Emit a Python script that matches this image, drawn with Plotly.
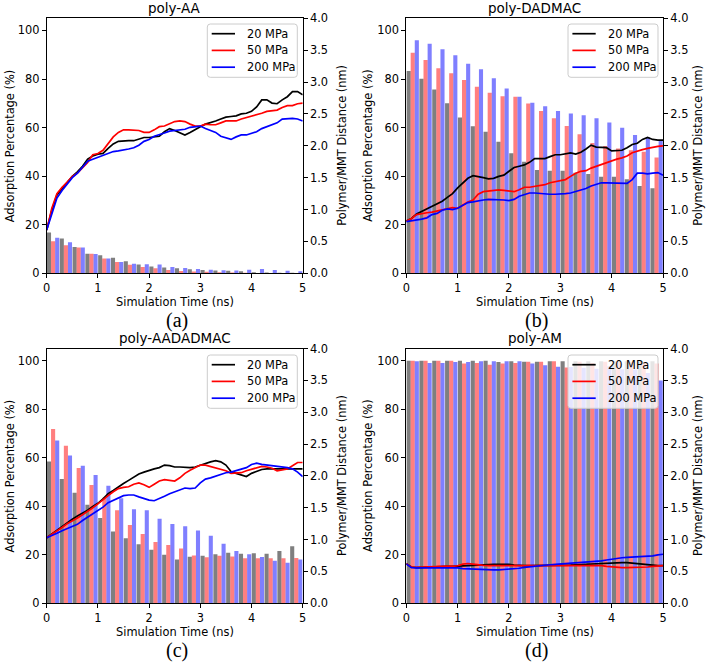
import plotly.graph_objects as go

W, H = 707, 664

# ---------------- data ----------------
bar_t = [0.0, 0.25, 0.5, 0.75, 1.0, 1.25, 1.5, 1.75, 2.0, 2.25,
         2.5, 2.75, 3.0, 3.25, 3.5, 3.75, 4.0, 4.25, 4.5, 4.75]

line_t = [0.0, 0.1, 0.2, 0.3, 0.4, 0.5, 0.6, 0.7, 0.8, 0.9,
          1.0, 1.1, 1.2, 1.3, 1.4, 1.5, 1.6, 1.7, 1.8, 1.9,
          2.0, 2.1, 2.2, 2.3, 2.4, 2.5, 2.6, 2.7, 2.8, 2.9,
          3.0, 3.1, 3.2, 3.3, 3.4, 3.5, 3.6, 3.7, 3.8, 3.9,
          4.0, 4.1, 4.2, 4.3, 4.4, 4.5, 4.6, 4.7, 4.8, 4.9, 5.0]

pressures = ["20 MPa", "50 MPa", "200 MPa"]
titles = ["poly-AA", "poly-DADMAC", "poly-AADADMAC", "poly-AM"]
letters = ["(a)", "(b)", "(c)", "(d)"]
x_ticks = [0, 1, 2, 3, 4, 5]
left_ticks = [0, 20, 40, 60, 80, 100]
right_ticks = [0.0, 0.5, 1.0, 1.5, 2.0, 2.5, 3.0, 3.5, 4.0]

# adsorption percentage (%) - bars
ads_a_20 = [16.8, 14.3, 10.8, 8.1, 7.4, 6.4, 5.0, 3.6, 2.8, 2.4, 2.1, 1.7, 1.4, 1.2, 1.0, 0.8, 0.4, 0.3, 0.2, 0.2]
ads_a_50 = [13.2, 11.5, 10.6, 8.1, 6.1, 4.7, 3.5, 2.6, 2.1, 1.4, 0.9, 0.7, 0.6, 0.4, 0.3, 0.2, 0.1, 0.1, 0.05, 0.05]
ads_a_200 = [14.6, 12.8, 10.6, 7.9, 6.1, 4.7, 3.9, 3.7, 3.6, 2.6, 2.2, 1.8, 1.5, 1.3, 1.2, 1.5, 1.8, 1.4, 1.1, 0.8]

ads_b_20 = [83.3, 80.1, 75.7, 70.0, 64.2, 60.6, 58.3, 54.2, 49.4, 45.9, 42.5, 42.2, 42.2, 41.4, 40.9, 39.8, 39.8, 38.7, 35.9, 35.0]
ads_b_50 = [90.8, 87.8, 84.4, 82.4, 79.6, 76.8, 74.3, 72.9, 72.7, 69.9, 66.8, 63.8, 60.7, 57.3, 53.7, 52.4, 51.4, 50.7, 50.0, 47.7]
ads_b_200 = [96.0, 94.5, 92.3, 89.8, 86.3, 84.0, 80.3, 76.1, 72.7, 70.2, 68.8, 66.8, 65.8, 65.1, 63.8, 62.1, 59.9, 56.9, 56.0, 54.9]

ads_c_20 = [58.4, 51.2, 45.6, 40.6, 35.1, 29.6, 26.8, 24.3, 22.1, 20.0, 18.1, 19.2, 19.6, 20.2, 20.8, 20.4, 20.6, 20.4, 21.6, 23.5]
ads_c_50 = [71.8, 64.9, 55.8, 48.8, 43.5, 38.3, 32.3, 28.6, 25.3, 24.0, 22.6, 19.7, 19.0, 19.6, 19.3, 18.6, 18.6, 18.6, 18.6, 18.7]
ads_c_200 = [67.1, 60.9, 56.7, 52.9, 48.4, 43.3, 38.8, 38.3, 34.8, 32.7, 31.7, 30.0, 27.8, 24.5, 21.6, 20.2, 19.1, 17.5, 16.7, 18.1]

ads_d_20 = [100.0, 100.0, 100.0, 100.0, 100.0, 100.0, 100.0, 99.4, 99.7, 99.5, 99.5, 99.7, 99.7, 99.7, 99.7, 99.7, 99.7, 99.7, 99.7, 99.7]
ads_d_50 = [100.0, 100.0, 100.0, 100.0, 98.8, 99.0, 98.3, 98.8, 99.0, 99.5, 99.5, 99.7, 97.2, 99.5, 99.0, 99.5, 99.5, 99.5, 99.0, 98.8]
ads_d_200 = [99.7, 99.0, 99.0, 99.4, 99.4, 99.7, 99.7, 99.7, 99.7, 98.8, 98.1, 97.5, 97.4, 97.1, 96.7, 97.7, 96.5, 96.3, 94.9, 91.8]

# polymer/MMT distance (nm) - lines
dist_a_20 = [0.68, 0.99, 1.23, 1.33, 1.42, 1.52, 1.59, 1.68, 1.79, 1.84,
             1.87, 1.88, 1.96, 2.03, 2.07, 2.08, 2.08, 2.08, 2.10, 2.13,
             2.13, 2.14, 2.15, 2.22, 2.27, 2.24, 2.21, 2.17, 2.21, 2.26,
             2.30, 2.34, 2.36, 2.39, 2.42, 2.45, 2.46, 2.47, 2.50, 2.51,
             2.54, 2.61, 2.72, 2.72, 2.67, 2.66, 2.72, 2.77, 2.85, 2.85, 2.80]
dist_a_50 = [0.68, 1.02, 1.25, 1.35, 1.43, 1.52, 1.57, 1.65, 1.74, 1.86,
             1.88, 1.93, 2.04, 2.14, 2.21, 2.25, 2.25, 2.24, 2.24, 2.21,
             2.21, 2.25, 2.30, 2.31, 2.34, 2.38, 2.39, 2.38, 2.34, 2.31,
             2.31, 2.34, 2.33, 2.33, 2.36, 2.39, 2.39, 2.39, 2.42, 2.44,
             2.47, 2.48, 2.51, 2.54, 2.55, 2.56, 2.60, 2.63, 2.63, 2.66, 2.67]
dist_a_200 = [0.68, 0.95, 1.18, 1.30, 1.40, 1.50, 1.57, 1.66, 1.76, 1.79,
              1.82, 1.85, 1.88, 1.91, 1.92, 1.93, 1.95, 1.97, 2.01, 2.07,
              2.10, 2.15, 2.17, 2.20, 2.23, 2.24, 2.25, 2.26, 2.29, 2.30,
              2.31, 2.27, 2.24, 2.21, 2.15, 2.12, 2.10, 2.14, 2.17, 2.17,
              2.19, 2.22, 2.27, 2.30, 2.33, 2.36, 2.42, 2.43, 2.43, 2.42, 2.39]

dist_b_20 = [0.82, 0.86, 0.93, 0.97, 1.02, 1.06, 1.10, 1.13, 1.19, 1.25,
             1.34, 1.42, 1.49, 1.53, 1.52, 1.50, 1.48, 1.49, 1.52, 1.54,
             1.60, 1.66, 1.68, 1.70, 1.74, 1.80, 1.80, 1.80, 1.83, 1.86,
             1.86, 1.88, 1.89, 1.87, 1.90, 1.95, 2.01, 1.98, 1.98, 1.97,
             1.92, 1.92, 1.93, 1.97, 2.02, 2.04, 2.10, 2.13, 2.10, 2.09, 2.09]
dist_b_50 = [0.82, 0.86, 0.92, 0.94, 0.95, 0.96, 0.98, 1.00, 1.02, 1.03,
             1.02, 1.07, 1.12, 1.15, 1.24, 1.28, 1.29, 1.31, 1.31, 1.30,
             1.29, 1.28, 1.31, 1.35, 1.35, 1.36, 1.37, 1.39, 1.42, 1.44,
             1.45, 1.47, 1.52, 1.57, 1.60, 1.61, 1.65, 1.68, 1.71, 1.73,
             1.76, 1.79, 1.81, 1.84, 1.89, 1.92, 1.94, 1.96, 1.98, 1.99, 2.00]
dist_b_200 = [0.81, 0.82, 0.84, 0.85, 0.87, 0.92, 0.94, 0.99, 1.01, 1.00,
              1.02, 1.06, 1.11, 1.12, 1.14, 1.15, 1.16, 1.16, 1.15, 1.15,
              1.14, 1.16, 1.21, 1.24, 1.26, 1.26, 1.25, 1.25, 1.24, 1.24,
              1.24, 1.25, 1.26, 1.28, 1.31, 1.33, 1.37, 1.39, 1.42, 1.42,
              1.42, 1.42, 1.42, 1.41, 1.47, 1.57, 1.57, 1.56, 1.57, 1.58, 1.54]

dist_c_20 = [1.03, 1.09, 1.15, 1.21, 1.27, 1.32, 1.37, 1.41, 1.46, 1.52,
             1.57, 1.64, 1.72, 1.77, 1.83, 1.88, 1.93, 1.98, 2.03, 2.06,
             2.09, 2.11, 2.13, 2.17, 2.16, 2.14, 2.14, 2.13, 2.13, 2.14,
             2.17, 2.20, 2.22, 2.24, 2.22, 2.17, 2.07, 2.04, 2.02, 1.99,
             2.04, 2.07, 2.10, 2.11, 2.11, 2.11, 2.10, 2.10, 2.10, 2.11, 2.11]
dist_c_50 = [1.03, 1.08, 1.13, 1.19, 1.25, 1.29, 1.34, 1.39, 1.44, 1.50,
             1.56, 1.63, 1.69, 1.75, 1.80, 1.82, 1.83, 1.87, 1.89, 1.86,
             1.82, 1.87, 1.92, 1.94, 1.93, 1.92, 1.97, 2.04, 2.09, 2.13,
             2.17, 2.17, 2.15, 2.13, 2.11, 2.08, 2.04, 2.04, 2.05, 2.08,
             2.10, 2.13, 2.15, 2.14, 2.12, 2.08, 2.09, 2.11, 2.16, 2.21, 2.21]
dist_c_200 = [1.03, 1.06, 1.10, 1.14, 1.17, 1.20, 1.24, 1.30, 1.35, 1.41,
              1.46, 1.51, 1.58, 1.62, 1.66, 1.69, 1.70, 1.70, 1.67, 1.64,
              1.62, 1.61, 1.64, 1.68, 1.72, 1.75, 1.78, 1.81, 1.80, 1.81,
              1.89, 1.95, 1.97, 2.00, 2.02, 2.05, 2.06, 2.08, 2.10, 2.13,
              2.18, 2.20, 2.18, 2.17, 2.16, 2.16, 2.15, 2.13, 2.11, 2.06, 1.99]

dist_d_20 = [0.62, 0.57, 0.56, 0.565, 0.57, 0.575, 0.58, 0.58, 0.58, 0.58,
             0.585, 0.59, 0.59, 0.595, 0.60, 0.605, 0.61, 0.61, 0.61, 0.615,
             0.61, 0.60, 0.59, 0.59, 0.59, 0.59, 0.59, 0.59, 0.595, 0.60,
             0.60, 0.60, 0.60, 0.605, 0.61, 0.61, 0.615, 0.62, 0.62, 0.625,
             0.63, 0.635, 0.64, 0.64, 0.63, 0.62, 0.61, 0.60, 0.595, 0.59, 0.59]
dist_d_50 = [0.62, 0.57, 0.565, 0.57, 0.575, 0.58, 0.585, 0.59, 0.585, 0.58,
             0.59, 0.615, 0.625, 0.615, 0.60, 0.595, 0.59, 0.59, 0.59, 0.59,
             0.59, 0.59, 0.59, 0.59, 0.595, 0.595, 0.60, 0.60, 0.60, 0.60,
             0.60, 0.60, 0.60, 0.60, 0.60, 0.60, 0.60, 0.595, 0.59, 0.58,
             0.57, 0.565, 0.56, 0.56, 0.56, 0.56, 0.565, 0.57, 0.58, 0.59, 0.59]
dist_d_200 = [0.62, 0.56, 0.555, 0.555, 0.56, 0.562, 0.565, 0.565, 0.565, 0.56,
              0.555, 0.545, 0.54, 0.535, 0.53, 0.53, 0.525, 0.525, 0.525, 0.53,
              0.53, 0.54, 0.55, 0.565, 0.575, 0.585, 0.59, 0.60, 0.605, 0.61,
              0.615, 0.62, 0.625, 0.63, 0.635, 0.64, 0.645, 0.655, 0.665, 0.68,
              0.695, 0.705, 0.715, 0.72, 0.725, 0.73, 0.73, 0.735, 0.745, 0.76, 0.77]

panels_ads = [
    [ads_a_20, ads_a_50, ads_a_200],
    [ads_b_20, ads_b_50, ads_b_200],
    [ads_c_20, ads_c_50, ads_c_200],
    [ads_d_20, ads_d_50, ads_d_200],
]
panels_dist = [
    [dist_a_20, dist_a_50, dist_a_200],
    [dist_b_20, dist_b_50, dist_b_200],
    [dist_c_20, dist_c_50, dist_c_200],
    [dist_d_20, dist_d_50, dist_d_200],
]

# ---------------- styling / layout ----------------
BAR_OFFSETS = [0.045, 0.125, 0.205]
BAR_WIDTH = 0.08
bar_colors = ["rgba(0,0,0,0.5)", "rgba(255,0,0,0.5)", "rgba(0,0,255,0.5)"]
line_colors = ["#000000", "#ff0000", "#0000ff"]
FONT = "DejaVu Sans"
FS = 11.4


def px(x):
    return x / W


def py(y):
    return 1 - y / H


# pixel boxes of each axes: (left, right, top, bottom)
boxes = [
    (46.7, 302.7, 18.3, 273.3),
    (406.3, 663.0, 18.3, 273.3),
    (46.7, 302.7, 348.5, 603.3),
    (406.3, 663.0, 348.5, 603.3),
]
# legend box top-right corners (pixels) and size
legend_corners = [(297.3, 24.0), (658.0, 24.0), (297.3, 355.0), (658.0, 355.0)]
LEG_W, LEG_H, LEG_R = 90.0, 53.3, 3.0
LEG_ROWS = [9.7, 26.4, 43.2]
# y-label x centres (left, right)
ylabel_x = [(9.5, 342.0), (368.0, 698.0), (9.5, 342.0), (368.0, 698.0)]

fig = go.Figure()
layout = dict(
    width=W, height=H,
    margin=dict(l=0, r=0, t=0, b=0, autoexpand=False),
    paper_bgcolor="white", plot_bgcolor="white",
    barmode="overlay",
    font=dict(family=FONT, size=FS, color="black"),
    showlegend=False,
)
annotations = []
shapes = []


def rounded_box(x0, y0, x1, y1, r):
    # pixel coords -> paper path with rounded corners
    def P(x, y):
        return f"{px(x):.6f},{py(y):.6f}"
    return (f"M {P(x0 + r, y0)} L {P(x1 - r, y0)} Q {P(x1, y0)} {P(x1, y0 + r)} "
            f"L {P(x1, y1 - r)} Q {P(x1, y1)} {P(x1 - r, y1)} "
            f"L {P(x0 + r, y1)} Q {P(x0, y1)} {P(x0, y1 - r)} "
            f"L {P(x0, y0 + r)} Q {P(x0, y0)} {P(x0 + r, y0)} Z")


for i in range(4):
    l, r, t, b = boxes[i]
    xa = "x" if i == 0 else f"x{i+1}"
    yl_i, yr_i = 2 * i + 1, 2 * i + 2
    yl = "y" if yl_i == 1 else f"y{yl_i}"
    yr = f"y{yr_i}"

    for k in range(3):
        fig.add_trace(go.Bar(
            x=[tt + BAR_OFFSETS[k] for tt in bar_t], y=panels_ads[i][k],
            width=BAR_WIDTH, marker=dict(color=bar_colors[k], line=dict(width=0)),
            xaxis=xa, yaxis=yl, showlegend=False, hoverinfo="skip"))
    for k in range(3):
        fig.add_trace(go.Scatter(
            x=line_t, y=panels_dist[i][k], mode="lines",
            line=dict(color=line_colors[k], width=1.7),
            name=pressures[k], xaxis=xa, yaxis=yr, showlegend=False))

    common = dict(showgrid=False, zeroline=False, showline=True, linecolor="black",
                  linewidth=1, ticks="outside", ticklen=4, tickwidth=1, automargin=False,
                  tickcolor="black", tickfont=dict(family=FONT, size=FS, color="black"))
    layout["xaxis" if i == 0 else f"xaxis{i+1}"] = dict(
        domain=[px(l), px(r)], anchor=yl, range=[0, 5], tickvals=x_ticks,
        mirror=True, **common)
    layout["yaxis" if yl_i == 1 else f"yaxis{yl_i}"] = dict(
        domain=[py(b), py(t)], anchor=xa, range=[0, 105], tickvals=left_ticks,
        **common)
    layout[f"yaxis{yr_i}"] = dict(
        overlaying=yl, side="right", anchor=xa, range=[0, 4],
        tickvals=right_ticks, tickformat=".1f", **common)

    # legend (matplotlib style)
    lr, lt = legend_corners[i]
    ll = lr - LEG_W
    shapes.append(dict(type="path", xref="paper", yref="paper",
                       path=rounded_box(ll, lt, lr, lt + LEG_H, LEG_R),
                       fillcolor="rgba(255,255,255,0.8)",
                       line=dict(color="#cccccc", width=1), layer="above"))
    for k in range(3):
        ry = lt + LEG_ROWS[k]
        shapes.append(dict(type="line", xref="paper", yref="paper",
                           x0=px(ll + 4.4), x1=px(ll + 27.7), y0=py(ry), y1=py(ry),
                           line=dict(color=line_colors[k], width=1.7), layer="above"))
        annotations.append(dict(text=pressures[k], x=px(ll + 37.5), y=py(ry),
                                xref="paper", yref="paper", showarrow=False,
                                xanchor="left", yanchor="middle",
                                font=dict(family=FONT, size=FS, color="black")))

    cx = (l + r) / 2
    cy = (t + b) / 2
    annotations.append(dict(text=titles[i], x=px(cx), y=py(t - 10.5), xref="paper", yref="paper",
                            showarrow=False, xanchor="center", yanchor="middle",
                            font=dict(family=FONT, size=13.5, color="black")))
    annotations.append(dict(text="Simulation Time (ns)", x=px(cx), y=py(b + 28.5),
                            xref="paper", yref="paper", showarrow=False,
                            xanchor="center", yanchor="middle",
                            font=dict(family=FONT, size=FS, color="black")))
    annotations.append(dict(text=letters[i], x=px(cx + 2), y=py(b + 47.5),
                            xref="paper", yref="paper", showarrow=False,
                            xanchor="center", yanchor="middle",
                            font=dict(family="Liberation Serif", size=20, color="black")))
    annotations.append(dict(text="Adsorption Percentage (%)", x=px(ylabel_x[i][0]), y=py(cy),
                            xref="paper", yref="paper", showarrow=False, textangle=-90,
                            xanchor="center", yanchor="middle",
                            font=dict(family=FONT, size=FS, color="black")))
    annotations.append(dict(text="Polymer/MMT Distance (nm)", x=px(ylabel_x[i][1]), y=py(cy),
                            xref="paper", yref="paper", showarrow=False, textangle=-90,
                            xanchor="center", yanchor="middle",
                            font=dict(family=FONT, size=FS, color="black")))

layout["annotations"] = annotations
layout["shapes"] = shapes
fig.update_layout(**layout)
fig.write_html("out.html",
               config={"displayModeBar": False},
               post_script="document.body.style.margin='0px';document.body.style.padding='0px';")
